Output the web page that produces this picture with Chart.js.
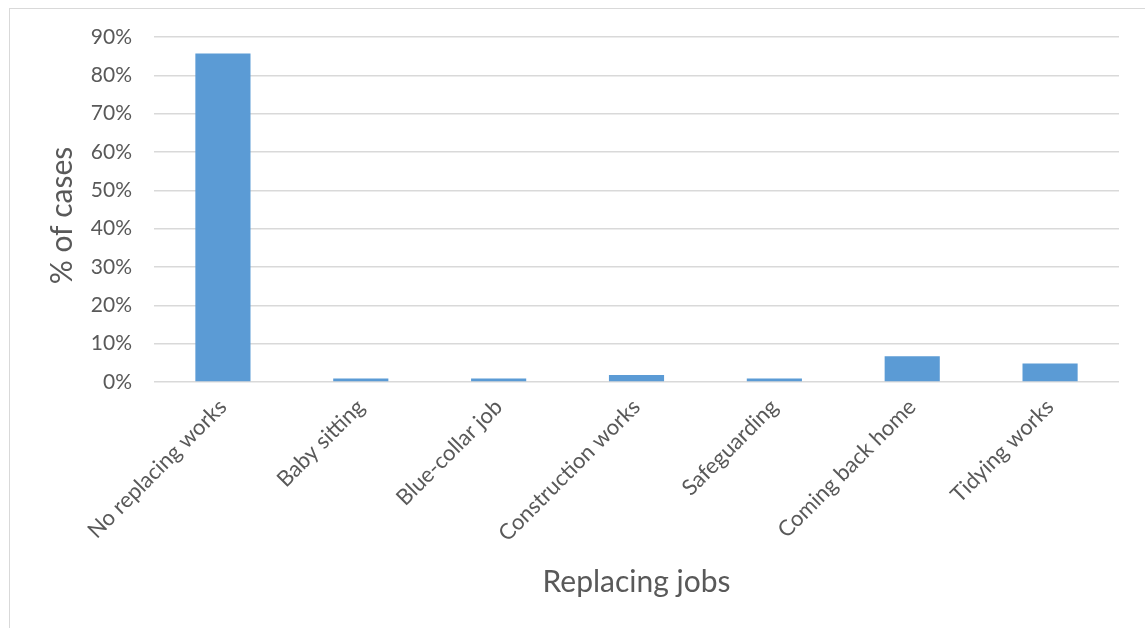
<!DOCTYPE html>
<html>
<head>
<meta charset="utf-8">
<script src="https://cdn.jsdelivr.net/npm/chart.js@4"></script>
<style>
  html, body { margin: 0; padding: 0; background: #fff; }
  #frame {
    position: absolute; left: 9px; top: 8px;
    width: 1136px; height: 620px;
    border-left: 1px solid #d9d9d9; border-top: 1px solid #d9d9d9;
  }
  #chart { display: block; }
</style>
</head>
<body>
<div id="frame"><canvas id="chart" width="1135" height="619"></canvas></div>
<script>
const jobs = ['No replacing works', 'Baby sitting', 'Blue-collar job', 'Construction works',
              'Safeguarding', 'Coming back home', 'Tidying works'];
const shareOfCases = [85.7, 0.9, 0.9, 1.8, 0.9, 6.7, 4.8];
const yTicks = [0, 10, 20, 30, 40, 50, 60, 70, 80, 90];
const yTitle = '% of cases';

const font = 'Lato, "Open Sans", sans-serif';
const grey = '#595959';

// vertical axis title, just below the middle of the plot
const yTitlePlugin = {
  id: 'yTitle',
  afterDraw(chart) {
    const { ctx, chartArea } = chart;
    ctx.save();
    ctx.translate(52, (chartArea.top + chartArea.bottom) / 2 + 6);
    ctx.rotate(-Math.PI / 2);
    ctx.font = '30px ' + font;
    ctx.fillStyle = grey;
    ctx.textAlign = 'center';
    ctx.textBaseline = 'middle';
    ctx.fillText(yTitle, 0, 0);
    ctx.restore();
  }
};

new Chart(document.getElementById('chart'), {
  type: 'bar',
  data: {
    labels: jobs,
    datasets: [{
      data: shareOfCases,
      backgroundColor: '#5b9bd5',
      categoryPercentage: 1,
      barPercentage: 0.4
    }]
  },
  plugins: [yTitlePlugin],
  options: {
    responsive: false,
    animation: false,
    layout: { padding: { top: 28, right: 26, bottom: 0, left: 0 } },
    plugins: { legend: { display: false }, tooltip: { enabled: false } },
    scales: {
      x: {
        grid: { display: false },
        border: { display: false },
        ticks: {
          color: grey, font: { family: font, size: 22 },
          minRotation: 45, maxRotation: 45, padding: 4
        },
        title: {
          display: true, text: 'Replacing jobs', color: grey,
          font: { family: font, size: 30 }, padding: { top: 0, bottom: 28 }
        },
        afterFit: (s) => { s.height = 246; }
      },
      y: {
        min: 0, max: 90,
        afterBuildTicks: (s) => { s.ticks = yTicks.map(v => ({ value: v })); },
        grid: { color: '#d9d9d9', lineWidth: 1.5, drawTicks: false },
        border: { display: false },
        ticks: {
          color: grey, font: { family: font, size: 21 }, padding: 22,
          callback: (v) => v + '%'
        },
        afterFit: (s) => { s.width = 144; s.paddingTop = 0; s.paddingBottom = 0; }
      }
    }
  }
});
</script>
</body>
</html>
